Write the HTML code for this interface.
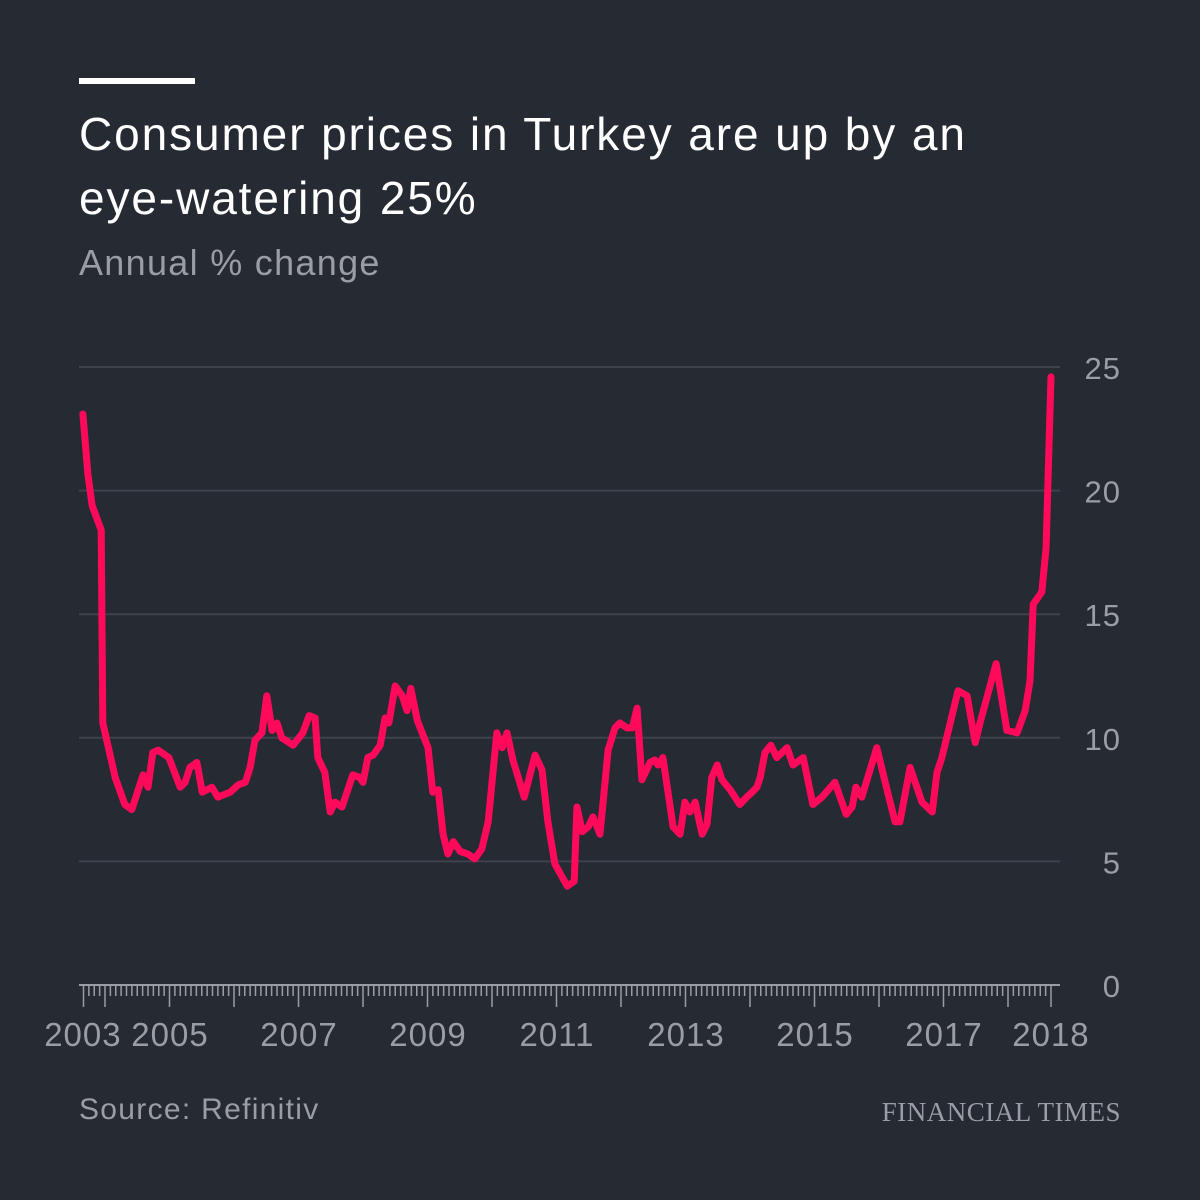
<!DOCTYPE html>
<html><head><meta charset="utf-8">
<style>
html,body{margin:0;padding:0;background:#262a33;}
body{width:1200px;height:1200px;position:relative;overflow:hidden;font-family:"Liberation Sans",sans-serif;}
.t{position:absolute;white-space:nowrap;}
</style></head>
<body>
<div style="position:absolute;left:79px;top:78px;width:116px;height:6px;background:#fff"></div>
<div class="t" style="left:79px;top:102px;font-size:46px;line-height:64px;color:#fff;letter-spacing:1.9px">Consumer prices in Turkey are up by an<br>eye-watering 25%</div>
<div class="t" style="left:79px;top:240px;font-size:36px;line-height:46px;color:#9a9da5;letter-spacing:1.3px">Annual % change</div>
<svg id="chart" width="1200" height="1200" style="position:absolute;left:0;top:0"></svg>
<div class="t" style="left:79px;top:1090px;font-size:30px;line-height:40px;color:#9a9da5;letter-spacing:1.3px">Source: Refinitiv</div>
<div class="t" style="right:79px;top:1094px;font-size:27px;line-height:36px;color:#9a9da5;font-family:'Liberation Serif',serif;letter-spacing:0.5px">FINANCIAL TIMES</div>
<script>
// months since Jan 2003
const months=[7.8,8.7,9.5,11.2,11.5,13.8,15.6,16.9,19.0,19.9,20.8,21.8,23.8,25.9,26.8,27.7,29.0,30.0,31.8,32.9,35.2,36.7,38.0,38.9,39.8,41.1,42.0,43.0,43.9,44.8,46.9,48.7,49.9,51.0,51.5,52.8,53.8,54.7,56.0,58.0,59.3,59.9,60.8,61.8,63.1,64.0,64.7,65.9,67.2,68.1,68.8,70.0,72.0,72.9,73.9,74.8,75.7,76.7,78.0,79.4,80.7,82.0,83.2,84.8,85.8,86.7,87.8,89.9,91.9,93.2,94.3,95.6,97.9,99.2,99.7,100.7,101.8,102.7,104.0,105.5,106.8,107.7,109.0,110.0,110.9,111.8,113.3,114.2,114.8,115.7,117.6,118.9,119.8,120.7,121.7,123.0,123.9,124.8,125.8,126.7,128.2,130.0,131.3,132.3,133.2,133.8,134.7,135.8,136.9,138.8,139.9,141.8,143.6,145.3,147.7,149.8,150.9,151.6,152.7,155.5,157.4,158.9,159.8,161.7,163.9,165.8,166.7,167.6,170.6,172.3,173.8,174.7,177.7,179.7,181.6,183.1,184.0,184.6,186.2,187.0,187.3,187.9];
const cpi=[23.1,20.7,19.4,18.4,10.6,8.4,7.3,7.1,8.5,8.0,9.4,9.5,9.2,8.0,8.2,8.8,9.0,7.8,8.0,7.6,7.8,8.1,8.2,8.8,9.9,10.2,11.7,10.3,10.6,10.0,9.7,10.2,10.9,10.8,9.2,8.6,7.0,7.4,7.2,8.5,8.4,8.2,9.2,9.3,9.7,10.8,10.6,12.1,11.7,11.1,12.0,10.7,9.6,7.8,7.9,6.1,5.3,5.8,5.4,5.3,5.1,5.5,6.6,10.2,9.6,10.2,9.1,7.6,9.3,8.7,6.6,4.9,4.0,4.2,7.2,6.2,6.4,6.8,6.1,9.5,10.4,10.6,10.4,10.4,11.2,8.3,9.0,9.1,8.9,9.2,6.4,6.1,7.4,7.0,7.4,6.1,6.5,8.4,8.9,8.3,7.9,7.3,7.6,7.8,8.0,8.4,9.4,9.7,9.2,9.6,8.9,9.2,7.3,7.6,8.2,6.9,7.2,8.0,7.6,9.6,7.9,6.6,6.6,8.8,7.4,7.0,8.6,9.2,11.9,11.7,9.8,10.6,13.0,10.3,10.2,11.1,12.3,15.4,15.9,17.7,20.0,24.6];
const yTicks=[0,5,10,15,20,25];
const xLabels=["2003","2005","2007","2009","2011","2013","2015","2017","2018"];
const xLabelMonths=[7.8,24,48,72,96,120,144,168,187.9];

const NS="http://www.w3.org/2000/svg";
const svg=document.getElementById('chart');
const X=m=>41+m*5.375;
const Y=v=>985-v*24.72;
function mk(tag,attrs){const e=document.createElementNS(NS,tag);for(const k in attrs)e.setAttribute(k,attrs[k]);svg.appendChild(e);return e;}
yTicks.forEach(v=>{
  if(v>0){const g=mk('line',{x1:79,x2:1060,y1:Y(v),y2:Y(v),stroke:'#3e424b','stroke-width':2});
  
  }
  const t=mk('text',{x:1121,y:Y(v)+12,'text-anchor':'end','font-size':31,fill:'#9a9da5','font-family':'Liberation Sans, sans-serif','letter-spacing':1});
  t.textContent=v;
  
  
});
const ax=mk('line',{x1:79,x2:1060,y1:985,y2:985,stroke:'#9a9da5','stroke-width':2});


for(let m=8;m<=188;m++){
  const x=X(m)-0.5;const major=(m%12===0)||m===8||m===188;
  const tk=mk('line',{x1:x,x2:x,y1:985,y2:major?1007:996,stroke:'#9a9da5','stroke-width':1.5});
  
  
}
xLabels.forEach((l,i)=>{
  const t=mk('text',{x:X(xLabelMonths[i]),y:1046,'text-anchor':'middle','font-size':33,fill:'#9a9da5','font-family':'Liberation Sans, sans-serif','letter-spacing':1});
  t.textContent=l;
  
  
});
const d=months.map((m,i)=>(i?'L':'M')+X(m).toFixed(1)+','+Y(cpi[i]).toFixed(1)).join('');
const p=mk('path',{d:d,fill:'none',stroke:'#ff0a5a','stroke-width':7,'stroke-linejoin':'round','stroke-linecap':'round'});


</script>
</body></html>
